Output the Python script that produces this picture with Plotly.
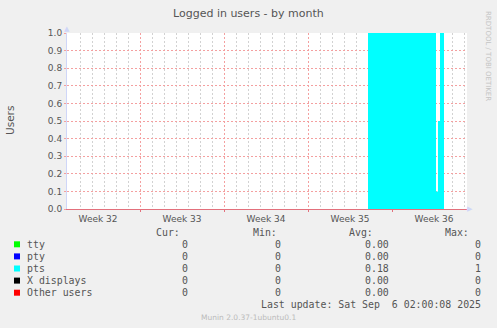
import plotly.graph_objects as go
import pandas as pd

# ---------------- data ----------------
times = ["2025-08-04 22:00", "2025-08-30 00:00", "2025-09-04 16:00", "2025-09-04 20:00",
         "2025-09-05 00:00", "2025-09-05 08:00", "2025-09-07 06:00"]
tty = [0, 0, 0, 0, 0, 0, 0]
pty = [0, 0, 0, 0, 0, 0, 0]
pts = [0, 1, 0.1, 0.5, 1, 0, 0]
xdisp = [0, 0, 0, 0, 0, 0, 0]
other = [0, 0, 0, 0, 0, 0, 0]

series_names = ["tty", "pty", "pts", "X displays", "Other users"]
series_colors = ["#00FF00", "#0000FF", "#00FFFF", "#000000", "#FF0000"]
cur_vals = ["0", "0", "0", "0", "0"]
min_vals = ["0", "0", "0", "0", "0"]
avg_vals = ["0.00", "0.00", "0.18", "0.00", "0.00"]
max_vals = ["0", "0", "1", "0", "0"]

week_starts = ["2025-08-04", "2025-08-11", "2025-08-18", "2025-08-25", "2025-09-01"]
week_labels = ["Week 32", "Week 33", "Week 34", "Week 35", "Week 36"]
x_range = ["2025-08-04 22:00", "2025-09-07 06:00"]
y_ticks = [0.0, 0.1, 0.2, 0.3, 0.4, 0.5, 0.6, 0.7, 0.8, 0.9, 1.0]

title = "Logged in users - by month"
last_update = "Last update: Sat Sep  6 02:00:08 2025"
munin_ver = "Munin 2.0.37-1ubuntu0.1"

# ---------------- layout helpers ----------------
W, H = 497, 328
L, R, T, B = 67, 467, 33, 209
PW, PH = R - L, B - T

def px(x):
    return (x - L) / PW

def py(y):
    return (B - y) / PH

FONT = "DejaVu Sans"
MONO = "DejaVu Sans Mono"
TXT = "#555555"
MGRID = "#F4A0A0"
GRID = "#D2D2D2"

fig = go.Figure()
all_series = [tty, pty, pts, xdisp, other]
for name, vals, col in zip(series_names, all_series, series_colors):
    fig.add_trace(go.Scatter(
        x=pd.to_datetime(times), y=vals, name=name, stackgroup="one",
        mode="lines", line=dict(width=0, shape="hv", color=col),
        fillcolor=col, hoverinfo="skip", showlegend=False, xaxis="x", yaxis="y"))

# dummy trace on second x axis for week boundary grid
fig.add_trace(go.Scatter(x=pd.to_datetime(x_range), y=[None, None], xaxis="x2", yaxis="y",
                         showlegend=False, hoverinfo="skip"))

week_mid = [pd.Timestamp(s) + pd.Timedelta(hours=84) for s in week_starts]
week_bounds = [pd.Timestamp(s) for s in week_starts[1:]]

fig.update_layout(
    width=W, height=H,
    margin=dict(l=L, r=W - R, t=T, b=H - B, pad=0),
    paper_bgcolor="#F0F0F0", plot_bgcolor="#FFFFFF",
    font=dict(family=FONT, color=TXT, size=9),
    xaxis=dict(
        type="date", range=pd.to_datetime(x_range), tickmode="array",
        tickvals=week_mid, ticktext=week_labels, showgrid=False, zeroline=False,
        ticks="", tickfont=dict(size=9, color=TXT), ticklabelstandoff=1,
        showline=True, linecolor="#E3707C", linewidth=1, layer="above traces",
        minor=dict(dtick=86400000, tick0="2025-08-04", showgrid=True,
                   gridcolor=GRID, griddash="2px,2px", gridwidth=1),
    ),
    xaxis2=dict(
        type="date", range=pd.to_datetime(x_range), overlaying="x", matches="x",
        tickmode="array", tickvals=week_bounds, showticklabels=False,
        showgrid=True, gridcolor=MGRID, griddash="2px,2px", gridwidth=1,
        ticks="outside", ticklen=2, tickcolor="#E3707C", zeroline=False, side="bottom",
    ),
    yaxis=dict(
        range=[0, 1.0], tickmode="array", tickvals=y_ticks,
        ticktext=[f"{v:.1f}" for v in y_ticks], showgrid=True,
        gridcolor=MGRID, griddash="2px,2px", gridwidth=1,
        zeroline=False, ticks="outside", ticklen=2, tickcolor=MGRID,
        tickfont=dict(size=9, color=TXT), showline=True, linecolor="#CFD6F8", linewidth=1,
    ),
)

ann = []
ann.append(dict(x=px(248), y=py(13), text=title, showarrow=False, xanchor="center",
                yanchor="middle", font=dict(size=11, color=TXT, family=FONT)))
ann.append(dict(x=px(10), y=py(121), text="Users", showarrow=False, textangle=-90,
                xanchor="center", yanchor="middle", font=dict(size=10.5, color=TXT, family=FONT)))
ann.append(dict(x=px(488), y=py(56), text="RRDTOOL / TOBI OETIKER", showarrow=False,
                textangle=90, xanchor="center", yanchor="middle",
                font=dict(size=7, color="#C4C4C4", family=FONT)))
ann.append(dict(x=px(67), y=py(29), text="▲", showarrow=False, xanchor="center", yanchor="middle",
                font=dict(size=7, color="#CFD6F8")))
ann.append(dict(x=px(470), y=py(209), text="▶", showarrow=False, xanchor="center", yanchor="middle",
                font=dict(size=7, color="#CFD6F8")))

for txt, xr in zip(["Cur:", "Min:", "Avg:", "Max:"], [181, 278, 374, 470]):
    ann.append(dict(x=px(xr), y=py(233), text=txt, showarrow=False, xanchor="right",
                    yanchor="middle", borderpad=0, font=dict(size=9.9, color=TXT, family=MONO)))

row_y = [244.3, 256.4, 268.5, 280.6, 292.7]
shapes = []
for i, name in enumerate(series_names):
    yy = row_y[i]
    shapes.append(dict(type="rect", xref="paper", yref="paper",
                       x0=px(14), x1=px(20), y0=py(yy + 3), y1=py(yy - 3),
                       fillcolor=series_colors[i], line=dict(width=0)))
    ann.append(dict(x=px(26), y=py(yy), text=name, showarrow=False, xanchor="left",
                    yanchor="middle", borderpad=0, font=dict(size=9.9, color=TXT, family=MONO)))
    for vals, xr in zip([cur_vals, min_vals, avg_vals, max_vals], [189, 282, 390, 482]):
        ann.append(dict(x=px(xr), y=py(yy), text=vals[i], showarrow=False, xanchor="right",
                        yanchor="middle", borderpad=0, font=dict(size=9.9, color=TXT, family=MONO)))

ann.append(dict(x=px(482), y=py(304), text=last_update.replace(" ", "&nbsp;"), showarrow=False,
                xanchor="right", yanchor="middle", borderpad=0,
                font=dict(size=9.9, color=TXT, family=MONO)))
ann.append(dict(x=px(248), y=py(317), text=munin_ver, showarrow=False, xanchor="center",
                yanchor="middle", borderpad=0, font=dict(size=7.5, color="#BBBBBB", family=FONT)))

for a in ann:
    a.setdefault("xref", "paper")
    a.setdefault("yref", "paper")
fig.update_layout(annotations=ann, shapes=shapes)

fig.write_html("out.html")
